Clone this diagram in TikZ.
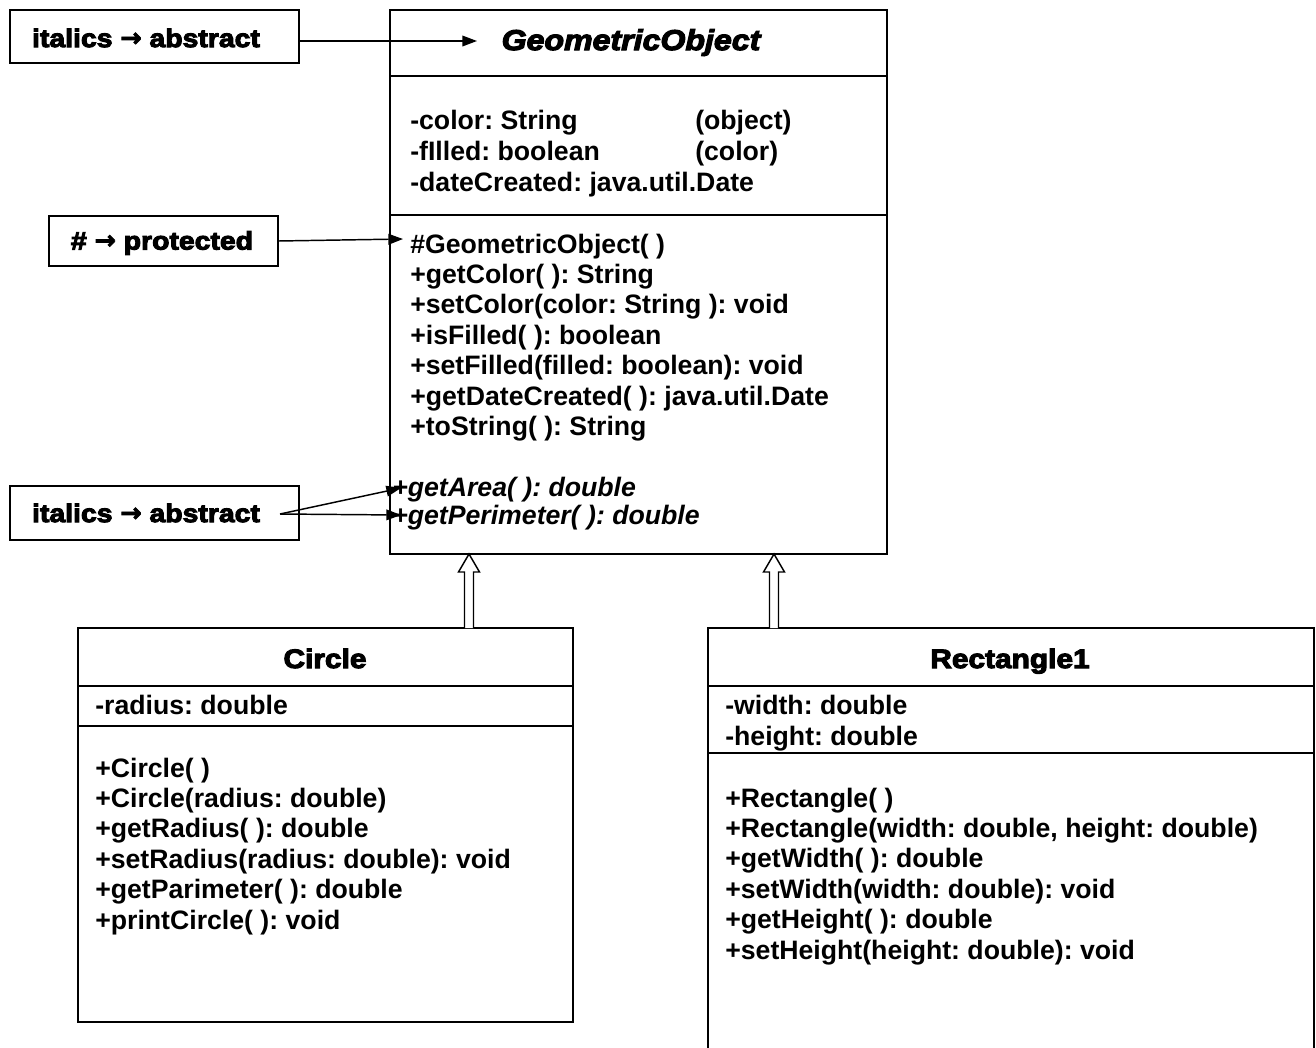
\documentclass[tikz,border=0pt]{standalone}
\usepackage{fontspec}
\setmainfont{Liberation Sans}
\newfontfamily\blackfont{Liberation Sans}[UprightFont={* Bold}, ItalicFont={* Bold Italic}, FakeBold=4, FakeStretch=1.12]
\newfontfamily\arrowfont{DejaVu Sans}[UprightFont={* Bold}, FakeBold=3]
\newcommand{\labelarrow}{{\arrowfont\raisebox{0.5pt}{→}}}
\frenchspacing
\usetikzlibrary{arrows.meta,fit}
\begin{document}
\begin{tikzpicture}[x=0.75pt,y=-0.75pt,
  umlbox/.style={draw, line width=1.5pt, inner sep=0pt},
  divider/.style={line width=1.5pt},
  member/.style={anchor=base west, inner sep=0pt, font=\fontsize{20}{24}\selectfont\bfseries},
  abstractmember/.style={member, font=\fontsize{20}{24}\selectfont\bfseries\itshape},
  classtitle/.style={anchor=base, inner sep=0pt, font=\fontsize{20}{24}\selectfont\blackfont},
  labelbox/.style={draw, line width=1.5pt, inner sep=0pt},
  labeltext/.style={inner sep=0pt, font=\fontsize{19}{22}\selectfont\blackfont},
  note/.style={line width=1.1pt, -{Triangle[length=11pt,width=8pt]}},
  inherit/.style={line width=1.1pt, fill=white}
]
\fill[white] (0,0) rectangle (1316,1047);
\useasboundingbox (0,0) rectangle (1316,1047);
\clip (0,0) rectangle (1316,1047);

% ---------- GeometricObject ----------
\node[umlbox, fit={(390,10) (887,554)}] (go) {};
\draw[divider] (390,76) -- (887,76);
\draw[divider] (390,215) -- (887,215);
\node[classtitle, font=\fontsize{21.5}{24}\selectfont\blackfont\itshape] (gotitle) at (631,50) {GeometricObject};

\node[member] (goa1) at (410,129) {-color: String};
\node[member] (goa2) at (410,160) {-fIlled: boolean};
\node[member] (goa3) at (410,191) {-dateCreated: java.util.Date};
\node[member] (goc1) at (695,129) {(object)};
\node[member] (goc2) at (695,160) {(color)};

\foreach \t [count=\i from 0] in {{\#GeometricObject( )},{+getColor( ): String},{+setColor(color: String ): void},{+isFilled( ): boolean},{+setFilled(filled: boolean): void},{+getDateCreated( ): java.util.Date},{+toString( ): String}}
  \node[member] (gom\i) at (410,{253+30.4*\i}) {\t};

\node[abstractmember] (goab1) at (392,496) {+getArea( ): double};
\node[abstractmember] (goab2) at (392,524) {+getPerimeter( ): double};

% ---------- labels ----------
\node[labelbox, fit={(10,10) (299,63)}] (lab1) {};
\node[labeltext] (lab1t) at (146,38) {italics \labelarrow{} abstract};
\coordinate (tip1) at (477,41);
\draw[note] (lab1.east |- tip1) -- (tip1);

\node[labelbox, fit={(49,216) (278,266)}] (lab2) {};
\node[labeltext] (lab2t) at (162,243) {\# \labelarrow{} protected};
\coordinate (src2) at (278,241);
\coordinate (tip2) at (403,239);
\draw[note] (src2) -- (tip2);

\node[labelbox, fit={(10,486) (299,540)}] (lab3) {};
\node[labeltext] (lab3t) at (146,513) {italics \labelarrow{} abstract};
\coordinate (src3) at (280,514);
\coordinate (tip3a) at (401,488);
\coordinate (tip3b) at (401,515);
\draw[note] (src3) -- (tip3a);
\draw[note] (src3) -- (tip3b);

% ---------- Circle ----------
\node[umlbox, fit={(78,628) (573,1022)}] (circle) {};
\draw[divider] (78,686) -- (573,686);
\draw[divider] (78,726) -- (573,726);
\node[classtitle] (circletitle) at (325,668) {Circle};
\node[member] (ca1) at (95,714) {-radius: double};
\foreach \t [count=\i from 0] in {{+Circle( )},{+Circle(radius: double)},{+getRadius( ): double},{+setRadius(radius: double): void},{+getParimeter( ): double},{+printCircle( ): void}}
  \node[member] (cm\i) at (95,{777+30.4*\i}) {\t};

% ---------- Rectangle1 ----------
\node[umlbox, fit={(708,628) (1314,1070)}] (rect) {};
\draw[divider] (708,686) -- (1314,686);
\draw[divider] (708,753) -- (1314,753);
\node[classtitle] (recttitle) at (1010,668) {Rectangle1};
\node[member] (ra1) at (725,714) {-width: double};
\node[member] (ra2) at (725,745) {-height: double};
\foreach \t [count=\i from 0] in {{+Rectangle( )},{+Rectangle(width: double, height: double)},{+getWidth( ): double},{+setWidth(width: double): void},{+getHeight( ): double},{+setHeight(height: double): void}}
  \node[member] (rm\i) at (725,{807+30.4*\i}) {\t};

% ---------- inheritance ----------
\coordinate (c1) at (469,628);
\coordinate (g1) at (469,554);
\draw[inherit] (c1) ++(-4.5,0) -- ++(0,-56) -- ++(-6,0) -- (g1) -- ++(10.5,18) -- ++(-6,0) -- ++(0,56);
\coordinate (r1) at (774,628);
\coordinate (g2) at (774,554);
\draw[inherit] (r1) ++(-4.5,0) -- ++(0,-56) -- ++(-6,0) -- (g2) -- ++(10.5,18) -- ++(-6,0) -- ++(0,56);
\end{tikzpicture}
\end{document}
